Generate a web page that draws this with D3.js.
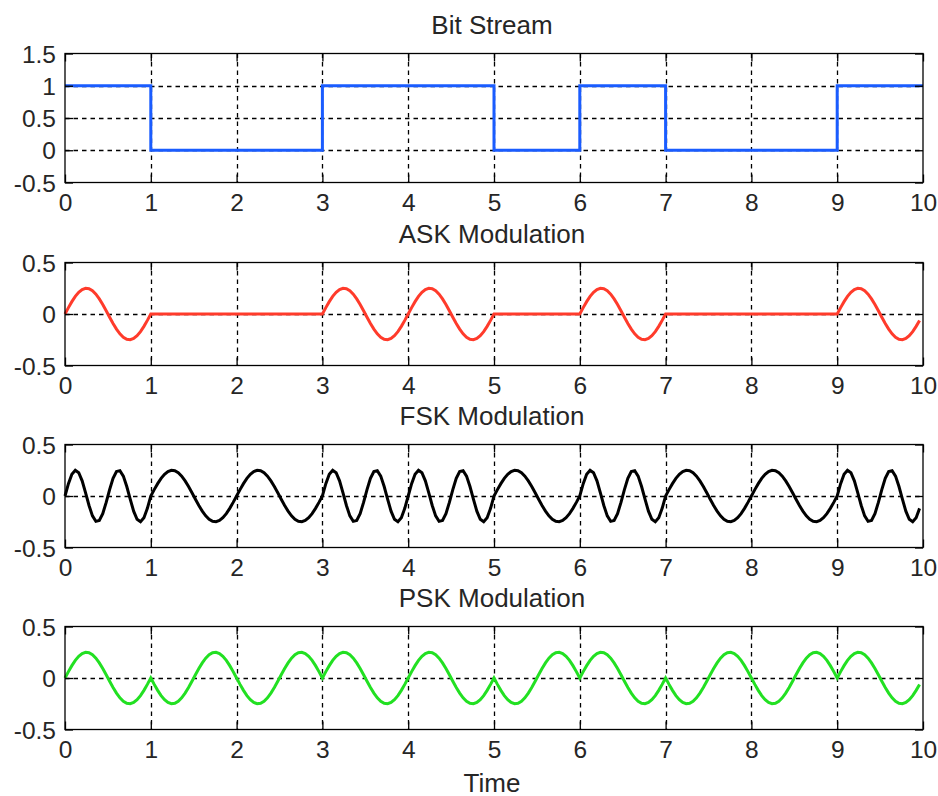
<!DOCTYPE html>
<html>
<head>
<meta charset="utf-8">
<script src="https://cdn.jsdelivr.net/npm/d3@7"></script>
<style>
  html, body { margin: 0; padding: 0; background: #fff; }
  svg { display: block; }
  text { font-family: "Liberation Sans", Arial, sans-serif; fill: #262626; }
</style>
</head>
<body>
<svg id="chart" width="938" height="796"></svg>
<script>
// ---------------- data ----------------
const bits = [1, 0, 0, 1, 1, 0, 1, 0, 0, 1];
const xTicks = [0, 1, 2, 3, 4, 5, 6, 7, 8, 9, 10];
const yTicksBit = [-0.5, 0, 0.5, 1, 1.5];
const yTicksMod = [-0.5, 0, 0.5];
const titles = ["Bit Stream", "ASK Modulation", "FSK Modulation", "PSK Modulation"];
const xLabel = "Time";
// one bit-period of carrier samples (amplitude ~0.25)
const carrierLow = [0, 0.062, 0.120, 0.171, 0.211, 0.238, 0.250, 0.246, 0.226, 0.193,
  0.147, 0.092, 0.031, -0.031, -0.092, -0.147, -0.193, -0.226, -0.246, -0.250,
  -0.238, -0.211, -0.171, -0.120, -0.062];
const carrierHigh = [0, 0.120, 0.211, 0.250, 0.226, 0.147, 0.031, -0.092, -0.193, -0.246,
  -0.238, -0.171, -0.062, 0.062, 0.171, 0.238, 0.246, 0.193, 0.092, -0.031,
  -0.147, -0.226, -0.250, -0.211, -0.120];
const silence = [0, 0, 0, 0, 0, 0, 0, 0, 0, 0, 0, 0, 0, 0, 0, 0, 0, 0, 0, 0, 0, 0, 0, 0, 0];
const carrierLowInv = [0, -0.062, -0.120, -0.171, -0.211, -0.238, -0.250, -0.246, -0.226, -0.193,
  -0.147, -0.092, -0.031, 0.031, 0.092, 0.147, 0.193, 0.226, 0.246, 0.250,
  0.238, 0.211, 0.171, 0.120, 0.062];

// ---------------- build series ----------------
const N = carrierLow.length;
function modulate(oneShape, zeroShape) {
  const pts = [];
  bits.forEach((b, i) => {
    const shape = b ? oneShape : zeroShape;
    shape.forEach((v, k) => pts.push([i + k / N, v]));
  });
  return pts;
}
const bitSeries = bits.map((b, i) => [i, b]).concat([[bits.length, bits[bits.length - 1]]]);
const askSeries = modulate(carrierLow, silence);
const fskSeries = modulate(carrierHigh, carrierLow);
const pskSeries = modulate(carrierLow, carrierLowInv);

// ---------------- layout ----------------
const svg = d3.select("#chart");
const left = 65, right = 923;
const panels = [
  { top: 53.5, bottom: 182.5, domain: [-0.5, 1.5], yTicks: yTicksBit, data: bitSeries, color: "#1a5cff", step: true },
  { top: 262.5, bottom: 365.5, domain: [-0.5, 0.5], yTicks: yTicksMod, data: askSeries, color: "#ff3b2b" },
  { top: 444.5, bottom: 547.5, domain: [-0.5, 0.5], yTicks: yTicksMod, data: fskSeries, color: "#000000" },
  { top: 626.5, bottom: 729.5, domain: [-0.5, 0.5], yTicks: yTicksMod, data: pskSeries, color: "#22e022" }
];

const x = d3.scaleLinear().domain([0, 10]).range([left, right]);
const tickLen = 8;
const tickFont = 24.5;
const titleFont = 26;

panels.forEach((p, idx) => {
  const y = d3.scaleLinear().domain(p.domain).range([p.bottom, p.top]);
  const g = svg.append("g");

  // grid (dashed)
  const gx = xTicks.filter(t => t > 0 && t < 10);
  const gy = p.yTicks.filter(t => t > p.domain[0] && t < p.domain[1]);
  g.selectAll(".vgrid").data(gx).join("line")
    .attr("x1", d => Math.round(x(d)) + 0.5).attr("x2", d => Math.round(x(d)) + 0.5)
    .attr("y1", p.top).attr("y2", p.bottom)
    .attr("stroke", "#000").attr("stroke-width", 1.3)
    .attr("stroke-dasharray", "4.5,4");
  g.selectAll(".hgrid").data(gy).join("line")
    .attr("x1", left).attr("x2", right)
    .attr("y1", d => Math.round(y(d)) + 0.5).attr("y2", d => Math.round(y(d)) + 0.5)
    .attr("stroke", "#000").attr("stroke-width", 1.3)
    .attr("stroke-dasharray", "4.5,4");

  // data line
  const line = d3.line().x(d => x(d[0])).y(d => y(d[1]));
  if (p.step) line.curve(d3.curveStepAfter);
  g.append("path").datum(p.data)
    .attr("d", line)
    .attr("fill", "none")
    .attr("stroke", p.color)
    .attr("stroke-width", 3)
    .attr("stroke-linejoin", "miter");

  // axes (ticks inward, box on)
  const axB = d3.axisBottom(x).tickValues(xTicks).tickSize(-tickLen).tickFormat(d => String(d));
  const axT = d3.axisTop(x).tickValues(xTicks).tickSize(-tickLen).tickFormat("");
  const axL = d3.axisLeft(y).tickValues(p.yTicks).tickSize(-tickLen).tickFormat(d => String(d));
  const axR = d3.axisRight(y).tickValues(p.yTicks).tickSize(-tickLen).tickFormat("");

  const gb = g.append("g").attr("transform", `translate(0,${p.bottom})`).call(axB);
  const gt = g.append("g").attr("transform", `translate(0,${p.top})`).call(axT);
  const gl = g.append("g").attr("transform", `translate(${left},0)`).call(axL);
  const gr = g.append("g").attr("transform", `translate(${right},0)`).call(axR);
  [gb, gt, gl, gr].forEach(a => {
    a.select(".domain").remove();
    a.selectAll(".tick line").attr("stroke", "#000").attr("stroke-width", 1.3);
  });
  gb.selectAll(".tick text").attr("font-size", tickFont).attr("fill", "#262626")
    .attr("font-family", "Liberation Sans, Arial, sans-serif")
    .attr("y", 11).attr("dy", "0.71em");
  gl.selectAll(".tick text").attr("font-size", tickFont).attr("fill", "#262626")
    .attr("font-family", "Liberation Sans, Arial, sans-serif")
    .attr("x", -9).attr("dy", "0.35em");

  // frame
  g.append("rect")
    .attr("x", left).attr("y", p.top)
    .attr("width", right - left).attr("height", p.bottom - p.top)
    .attr("fill", "none").attr("stroke", "#000").attr("stroke-width", 1.3);

  // title
  svg.append("text")
    .attr("x", (left + right) / 2 - 2).attr("y", p.top - 20)
    .attr("text-anchor", "middle")
    .attr("font-size", titleFont)
    .text(titles[idx]);

  if (idx === panels.length - 1) {
    svg.append("text")
      .attr("x", (left + right) / 2 - 2).attr("y", p.bottom + 62)
      .attr("text-anchor", "middle")
      .attr("font-size", titleFont)
      .text(xLabel);
  }
});
</script>
</body>
</html>
